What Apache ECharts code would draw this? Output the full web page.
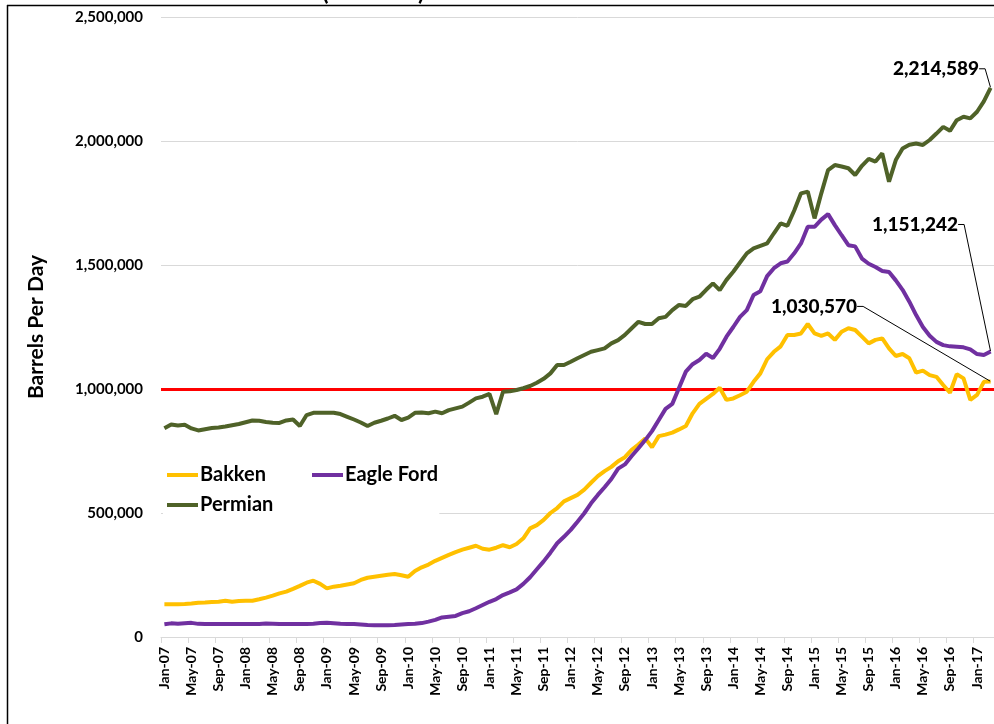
<!DOCTYPE html>
<html>
<head>
<meta charset="utf-8">
<script src="https://cdn.jsdelivr.net/npm/echarts@6/dist/echarts.min.js"></script>
<style>
html,body{margin:0;padding:0;background:#fff;}
#chart{width:994px;height:724px;}
</style>
</head>
<body>
<div id="chart"></div>
<script>
// ---- data ----
const monthNames = ['Jan','Feb','Mar','Apr','May','Jun','Jul','Aug','Sep','Oct','Nov','Dec'];
const startYear = 2007;
const monthCount = 123; // Jan-07 .. Mar-17
const categories = [];
for (let i = 0; i < monthCount; i++) {
  const y = startYear + Math.floor(i / 12);
  categories.push(monthNames[i % 12] + '-' + String(y).slice(2));
}

const bakken = [
  132000,132000,132000,133000,135000,138000,139000,141000,142000,146000,142000,145000,
  146000,146000,152000,159000,167000,176000,183000,194000,206000,219000,227000,214000,
  196000,203000,207000,212000,217000,230000,239000,243000,247000,251000,254000,249000,
  243000,266000,281000,292000,307000,319000,331000,342000,352000,360000,368000,356000,
  352000,360000,370000,362000,375000,398000,438000,451000,472000,500000,520000,547000,
  560000,573000,594000,622000,649000,669000,686000,709000,725000,755000,776000,801000,
  765000,810000,816000,824000,837000,851000,902000,940000,960000,980000,1005000,956000,
  962000,975000,989000,1029000,1063000,1120000,1150000,1172000,1218000,1218000,1224000,1262000,
  1224000,1214000,1224000,1198000,1231000,1245000,1238000,1211000,1184000,1198000,1204000,1164000,
  1133000,1141000,1124000,1066000,1074000,1056000,1049000,1016000,985000,1060000,1043000,956000,
  976000,1029000,1030570
];

const eagleFord = [
  51000,55000,53000,55000,57000,53000,52000,52000,52000,52000,52000,52000,
  52000,52000,52000,54000,53000,52000,52000,52000,52000,52000,53000,56000,
  57000,55000,53000,52000,52000,50000,48000,47000,47000,47000,48000,50000,
  52000,53000,56000,62000,69000,79000,82000,85000,96000,104000,116000,129000,
  142000,153000,169000,180000,192000,214000,241000,273000,305000,340000,378000,404000,
  432000,465000,499000,539000,573000,604000,637000,679000,696000,730000,761000,794000,
  830000,875000,920000,940000,1005000,1070000,1100000,1117000,1142000,1125000,1162000,1211000,
  1250000,1291000,1318000,1379000,1394000,1455000,1487000,1507000,1514000,1547000,1587000,1654000,
  1654000,1683000,1705000,1661000,1620000,1580000,1575000,1526000,1505000,1492000,1476000,1472000,
  1438000,1400000,1352000,1298000,1250000,1215000,1190000,1177000,1172000,1170000,1168000,1160000,
  1141000,1137000,1151242
];

const permian = [
  842000,857000,853000,856000,841000,833000,838000,843000,845000,849000,854000,859000,
  866000,873000,872000,867000,864000,863000,873000,877000,851000,895000,904000,904000,
  904000,904000,899000,888000,877000,865000,851000,864000,872000,881000,892000,875000,
  885000,904000,905000,902000,909000,902000,915000,922000,929000,945000,962000,969000,
  980000,899000,989000,991000,996000,1003000,1012000,1025000,1041000,1063000,1097000,1097000,
  1110000,1124000,1137000,1150000,1157000,1164000,1184000,1197000,1218000,1245000,1271000,1262000,
  1262000,1285000,1291000,1318000,1339000,1335000,1362000,1372000,1400000,1426000,1399000,1440000,
  1473000,1510000,1547000,1567000,1577000,1587000,1628000,1668000,1658000,1720000,1789000,1796000,
  1688000,1789000,1883000,1903000,1897000,1890000,1863000,1900000,1928000,1917000,1950000,1836000,
  1923000,1970000,1985000,1990000,1984000,2004000,2030000,2057000,2041000,2084000,2098000,2091000,
  2118000,2160000,2214589
];

const thresholdValue = 1000000;
const yTicks = [0, 500000, 1000000, 1500000, 2000000, 2500000];

// ---- chart ----
const FONT = 'Lato, "Open Sans", "Liberation Sans", sans-serif';
const fmt = v => Number(v).toLocaleString('en-US');

function withEndLabel(values) {
  const last = values.length - 1;
  return values.map((v, i) => i === last ? {
    value: v,
    symbol: 'circle',
    symbolSize: 1,
    itemStyle: {color: 'rgba(0,0,0,0)', borderWidth: 0},
    label: {
      show: true,
      position: 'left',
      distance: 5,
      formatter: p => fmt(p.value),
      fontFamily: FONT,
      fontWeight: 900,
      fontSize: 19,
      color: '#000',
      opacity: 1
    }
  } : v);
}

const chart = echarts.init(document.getElementById('chart'), null, {renderer: 'canvas'});

const lineSeries = (name, values, color, layout) => ({
  name: name,
  type: 'line',
  data: withEndLabel(values),
  symbol: 'none',
  showSymbol: true,
  showAllSymbol: true,
  lineStyle: {color: color, width: 4},
  itemStyle: {color: color},
  emphasis: {disabled: true},
  labelLine: {show: true, length2: 6, lineStyle: {color: '#000', width: 1}},
  labelLayout: layout,
  z: 3
});

const legendBase = {
  orient: 'horizontal',
  icon: 'rect',
  itemWidth: 31,
  itemHeight: 4,
  backgroundColor: '#fff',
  textStyle: {fontFamily: FONT, fontWeight: 'bold', fontSize: 20, color: '#000', padding: [0, 0, 0, -3]},
  selectedMode: false
};

chart.setOption({
  animation: false,
  backgroundColor: '#fff',
  textStyle: {fontFamily: FONT},
  grid: {left: 161, right: -5, top: 17, bottom: 87, containLabel: false},
  legend: [
    Object.assign({}, legendBase, {
      data: ['Bakken', 'Eagle Ford'],
      left: 163, top: 461, itemGap: 46,
      padding: [4, 6, 4, 4]
    }),
    Object.assign({}, legendBase, {
      data: ['Permian'],
      left: 163, top: 491,
      padding: [4, 166, 10, 4]
    })
  ],
  xAxis: {
    type: 'category',
    data: categories,
    boundaryGap: true,
    axisLine: {lineStyle: {color: '#d9d9d9', width: 1}},
    axisTick: {show: true, interval: 3, length: 6, lineStyle: {color: '#d9d9d9'}},
    axisLabel: {
      interval: 3,
      rotate: 90,
      margin: 10,
      padding: [0, 0, 7, 0],
      fontFamily: FONT,
      fontWeight: 'bold',
      fontSize: 14,
      color: '#000'
    },
    splitLine: {show: false}
  },
  yAxis: {
    type: 'value',
    min: yTicks[0],
    max: yTicks[yTicks.length - 1],
    interval: yTicks[1] - yTicks[0],
    name: 'Barrels Per Day',
    nameLocation: 'middle',
    nameGap: 114,
    nameTextStyle: {fontFamily: FONT, fontWeight: 'bold', fontSize: 21, color: '#000'},
    axisLine: {show: false},
    axisTick: {show: false},
    axisLabel: {
      formatter: v => fmt(v),
      margin: 18,
      fontFamily: FONT,
      fontWeight: 'bold',
      fontSize: 15,
      color: '#000'
    },
    splitLine: {lineStyle: {color: '#d9d9d9', width: 1}}
  },
  series: [
    Object.assign(lineSeries('Bakken', bakken, '#FFC000', {dx: -128, dy: -75}), {
      markLine: {
        silent: true,
        symbol: 'none',
        label: {show: false},
        lineStyle: {color: '#FF0000', width: 3, type: 'solid'},
        data: [{yAxis: thresholdValue}],
        z: 2
      }
    }),
    lineSeries('Eagle Ford', eagleFord, '#7030A0', {dx: -27, dy: -127}),
    lineSeries('Permian', permian, '#4F6228', {dx: -6, dy: -19})
  ],
  graphic: [
    {type: 'line', shape: {x1: 7.5, y1: 5, x2: 7.5, y2: 724}, style: {stroke: '#000', lineWidth: 1.5}, silent: true},
    {type: 'line', shape: {x1: 7, y1: 5.5, x2: 994, y2: 5.5}, style: {stroke: '#000', lineWidth: 1.5}, silent: true},
    {type: 'text', left: 322, top: -20, style: {text: '(', font: 'bold 24px ' + FONT, fill: '#000'}, silent: true},
    {type: 'text', left: 418, top: -20, style: {text: ')', font: 'bold 24px ' + FONT, fill: '#000'}, silent: true}
  ]
});
</script>
</body>
</html>
